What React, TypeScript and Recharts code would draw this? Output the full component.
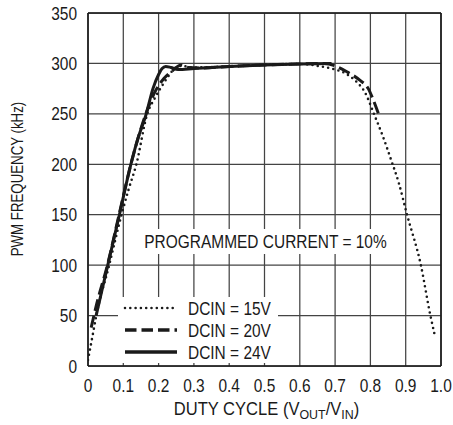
import React from 'react';
import { LineChart, Line, XAxis, YAxis, CartesianGrid, ReferenceLine, Legend } from 'recharts';

const X_TICKS = [0, 0.1, 0.2, 0.3, 0.4, 0.5, 0.6, 0.7, 0.8, 0.9, 1.0];
const X_TICK_LABELS = ['0', '0.1', '0.2', '0.3', '0.4', '0.5', '0.6', '0.7', '0.8', '0.9', '1.0'];
const Y_TICKS = [0, 50, 100, 150, 200, 250, 300, 350];

const SERIES_NAMES = ['DCIN = 15V', 'DCIN = 20V', 'DCIN = 24V'];
const ANNOTATION = 'PROGRAMMED CURRENT = 10%';

const DCIN_15V = [
  { duty: 0, freq: 6 }, { duty: 0.014, freq: 32 }, { duty: 0.023, freq: 49 }, { duty: 0.06, freq: 100 },
  { duty: 0.095, freq: 150 }, { duty: 0.115, freq: 175 }, { duty: 0.137, freq: 200 }, { duty: 0.168, freq: 250 },
  { duty: 0.19, freq: 266 }, { duty: 0.212, freq: 279 }, { duty: 0.231, freq: 289 }, { duty: 0.245, freq: 295 },
  { duty: 0.265, freq: 297.5 }, { duty: 0.3, freq: 296 }, { duty: 0.4, freq: 297 }, { duty: 0.5, freq: 298.5 },
  { duty: 0.6, freq: 299.5 }, { duty: 0.66, freq: 297 }, { duty: 0.7, freq: 294 }, { duty: 0.73, freq: 290 },
  { duty: 0.76, freq: 282 }, { duty: 0.785, freq: 271 }, { duty: 0.81, freq: 250 }, { duty: 0.835, freq: 228 },
  { duty: 0.86, freq: 203 }, { duty: 0.88, freq: 182 }, { duty: 0.903, freq: 151 }, { duty: 0.943, freq: 100 },
  { duty: 0.97, freq: 50 }, { duty: 0.982, freq: 31 },
];

const DCIN_20V = [
  { duty: 0.009, freq: 38 }, { duty: 0.025, freq: 62 }, { duty: 0.055, freq: 100 }, { duty: 0.088, freq: 150 },
  { duty: 0.12, freq: 198 }, { duty: 0.162, freq: 248 }, { duty: 0.19, freq: 272 }, { duty: 0.215, freq: 285 },
  { duty: 0.24, freq: 293 }, { duty: 0.264, freq: 298.5 }, { duty: 0.285, freq: 296 }, { duty: 0.32, freq: 295.5 },
  { duty: 0.4, freq: 297 }, { duty: 0.5, freq: 298.5 }, { duty: 0.6, freq: 299.5 }, { duty: 0.67, freq: 300 },
  { duty: 0.704, freq: 297 }, { duty: 0.732, freq: 292 }, { duty: 0.769, freq: 283.6 }, { duty: 0.794, freq: 275 },
  { duty: 0.808, freq: 264 }, { duty: 0.827, freq: 246 },
];

const DCIN_24V = [
  { duty: 0.023, freq: 50 }, { duty: 0.056, freq: 100 }, { duty: 0.089, freq: 150 }, { duty: 0.12, freq: 198 },
  { duty: 0.14, freq: 224 }, { duty: 0.165, freq: 250 }, { duty: 0.184, freq: 275 }, { duty: 0.2, freq: 289 },
  { duty: 0.21, freq: 295 }, { duty: 0.22, freq: 297 }, { duty: 0.235, freq: 296 }, { duty: 0.255, freq: 294 },
  { duty: 0.3, freq: 295 }, { duty: 0.4, freq: 297 }, { duty: 0.5, freq: 298.5 }, { duty: 0.6, freq: 299.5 },
  { duty: 0.69, freq: 300 },
];

const FONT = "'Liberation Sans', Arial, Helvetica, sans-serif";
const SX = 0.86;
const INK = '#1a1a1a';

const LINE_STYLES = [
  { strokeWidth: 2.6, strokeDasharray: '0 5.3', strokeLinecap: 'round' as const },
  { strokeWidth: 3, strokeDasharray: '12 5', strokeLinecap: 'butt' as const },
  { strokeWidth: 3, strokeDasharray: undefined, strokeLinecap: 'butt' as const },
];
const LEGEND_STYLES = [
  { strokeWidth: 2.6, strokeDasharray: '0 5.3', strokeLinecap: 'round' as const },
  { strokeWidth: 3.5, strokeDasharray: '11.5 5', strokeLinecap: 'butt' as const },
  { strokeWidth: 3.5, strokeDasharray: undefined, strokeLinecap: 'butt' as const },
];

function XTick(props: any) {
  const { x, y, payload } = props;
  const i = X_TICKS.findIndex((t) => Math.abs(t - payload.value) < 1e-9);
  const label = i >= 0 ? X_TICK_LABELS[i] : String(payload.value);
  return (
    <g transform={`translate(${x},${y + 25.5}) scale(${SX},1)`}>
      <text x={0} y={0} textAnchor="middle" fontSize={18} fontFamily={FONT} fill={INK}>{label}</text>
    </g>
  );
}

function YTick(props: any) {
  const { x, y, payload } = props;
  return (
    <g transform={`translate(${x - 11},${y + 6.5}) scale(${SX},1)`}>
      <text x={0} y={0} textAnchor="end" fontSize={18} fontFamily={FONT} fill={INK}>{String(payload.value)}</text>
    </g>
  );
}

function XTitle() {
  return (
    <g transform={`translate(266.5,415) scale(0.92,1)`}>
      <text x={0} y={0} textAnchor="middle" fontSize={18} fontFamily={FONT} fill={INK}>
        <tspan>DUTY CYCLE (V</tspan>
        <tspan fontSize={13.5} dy={4}>OUT</tspan>
        <tspan dy={-4}>/V</tspan>
        <tspan fontSize={13.5} dy={4}>IN</tspan>
        <tspan dy={-4}>)</tspan>
      </text>
    </g>
  );
}

function YTitle() {
  return (
    <g transform={`translate(17,179) rotate(-90) scale(0.83,1)`}>
      <text x={0} y={6} textAnchor="middle" fontSize={16} fontFamily={FONT} fill={INK}>PWM FREQUENCY (kHz)</text>
    </g>
  );
}

function LegendBox() {
  return (
    <div style={{ background: '#fff', width: 160, height: 66 }}>
      <svg width={160} height={66} style={{ display: 'block' }}>
        {SERIES_NAMES.map((name, i) => {
          const cy = 11 + 22 * i;
          const st = LEGEND_STYLES[i];
          return (
            <g key={name}>
              <line x1={7} x2={59} y1={cy} y2={cy} stroke={INK} strokeWidth={st.strokeWidth}
                strokeDasharray={st.strokeDasharray} strokeLinecap={st.strokeLinecap} />
              <g transform={`translate(70,${cy + 6.5}) scale(${SX},1)`}>
                <text x={0} y={0} fontSize={18} fontFamily={FONT} fill={INK}>{name}</text>
              </g>
            </g>
          );
        })}
      </svg>
    </div>
  );
}

const SERIES = [DCIN_15V, DCIN_20V, DCIN_24V];

export default function App() {
  return (
    <div style={{ position: 'absolute', left: 0, top: 0, width: 453, height: 425, background: '#fff' }}>
      <LineChart width={453} height={425} margin={{ top: 13, right: 12, bottom: 0, left: 0 }}>
        <CartesianGrid stroke="#444" strokeWidth={1.25} />
        <XAxis
          type="number"
          dataKey="duty"
          domain={[0, 1]}
          ticks={X_TICKS}
          tick={XTick}
          tickSize={0}
          tickMargin={0}
          tickLine={false}
          height={59}
          axisLine={{ stroke: INK, strokeWidth: 1.6 }}
          allowDataOverflow
          label={() => <XTitle />}
        />
        <YAxis
          type="number"
          dataKey="freq"
          domain={[0, 350]}
          ticks={Y_TICKS}
          tick={YTick}
          tickSize={0}
          tickMargin={0}
          tickLine={false}
          width={88}
          axisLine={{ stroke: INK, strokeWidth: 1.6 }}
          allowDataOverflow
          label={() => <YTitle />}
        />
        <ReferenceLine y={350} stroke={INK} strokeWidth={1.6} />
        <ReferenceLine x={1} stroke={INK} strokeWidth={1.6} />
        {SERIES.map((d, i) => (
          <Line
            key={SERIES_NAMES[i]}
            name={SERIES_NAMES[i]}
            data={d}
            dataKey="freq"
            type="monotone"
            stroke={INK}
            strokeWidth={LINE_STYLES[i].strokeWidth}
            strokeDasharray={LINE_STYLES[i].strokeDasharray}
            strokeLinecap={LINE_STYLES[i].strokeLinecap}
            dot={false}
            activeDot={false}
            isAnimationActive={false}
          />
        ))}
        <Legend
          layout="horizontal"
          verticalAlign="middle"
          align="center"
          content={() => <LegendBox />}
          wrapperStyle={{ position: 'absolute', left: 118, top: 297, width: 160, height: 66, margin: 0, padding: 0 }}
        />
      </LineChart>
      <div style={{ position: 'absolute', left: 138, top: 229, width: 255, height: 25, background: '#fff' }}>
        <svg width={255} height={25} style={{ display: 'block' }}>
          <g transform={`translate(127.5,18.5) scale(${SX},1)`}>
            <text x={0} y={0} textAnchor="middle" fontSize={18} fontFamily={FONT} fill={INK}>{ANNOTATION}</text>
          </g>
        </svg>
      </div>
    </div>
  );
}
